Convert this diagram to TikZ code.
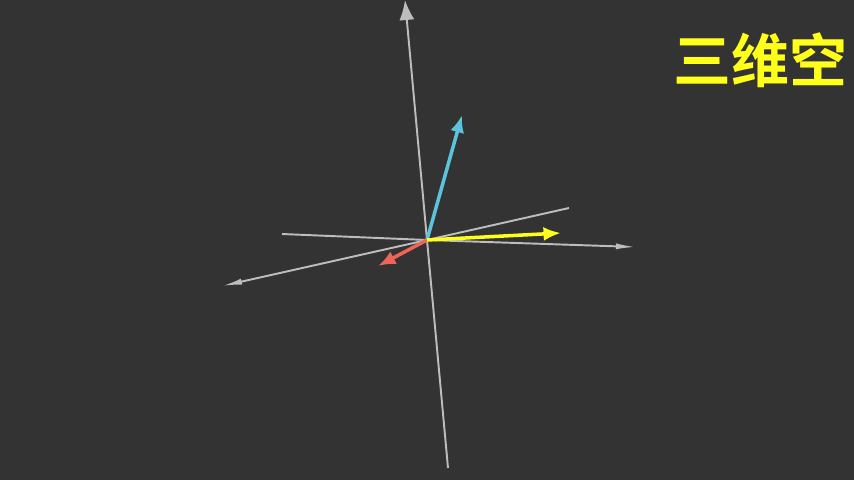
\documentclass[tikz,border=0pt]{standalone}
\usepackage{xcolor}
\usepackage{fontspec}
\newfontfamily\cjkfont{Noto Sans CJK SC}[BoldFont={Noto Sans CJK SC Bold}]
\usepackage{tikz}
\usetikzlibrary{arrows.meta}
\definecolor{bgdark}{HTML}{333333}
\definecolor{axisgray}{HTML}{BDBDBD}
\definecolor{vecblue}{HTML}{5BC3DC}
\definecolor{vecred}{HTML}{EE6459}
\definecolor{vecyellow}{HTML}{FFFF1A}
\tikzset{
  axisline/.style={line width=1.1pt,axisgray},
  axisarrow/.style={line width=1.1pt,axisgray,-{Latex[length=4mm,width=3mm]}},
  flatarrow/.style={line width=1.1pt,axisgray,-{Latex[length=4mm,width=1.2mm]}},
  vec/.style={line width=2pt,-{Latex[length=3.5mm,width=2.8mm]}},
  title/.style={font=\cjkfont\bfseries\fontsize{33}{33}\selectfont,text=vecyellow,inner sep=0pt}
}
\begin{document}
\begin{tikzpicture}[x=0.02cm,y=-0.02cm]
  \fill[bgdark] (0,0) rectangle (854,480);
  \useasboundingbox (0,0) rectangle (854,480);
  % origin and axis ends
  \coordinate (O) at (427,240);
  \coordinate (zdown) at (448,468);
  \coordinate (zup) at (405,0);
  \coordinate (xleft) at (282,234);
  \coordinate (xright) at (636,247);
  \coordinate (yback) at (569,208);
  \coordinate (yfront) at (222,286);
  \draw[axisline] (O) -- (zdown);
  \draw[axisarrow] (O) -- (zup);
  \draw[axisline] (O) -- (xleft);
  \draw[flatarrow] (O) -- (xright);
  \draw[axisline] (O) -- (yback);
  \draw[flatarrow] (O) -- (yfront);
  % vectors
  \coordinate (vy) at (561,233);
  \coordinate (vb) at (462,115);
  \coordinate (vr) at (378,266);
  \draw[vec,vecblue] (O) -- (vb);
  \draw[vec,vecred] (O) -- (vr);
  \draw[vec,vecyellow] (O) -- (vy);
  \node[title] (lbl) at (760,60) {三维空};
\end{tikzpicture}
\end{document}
